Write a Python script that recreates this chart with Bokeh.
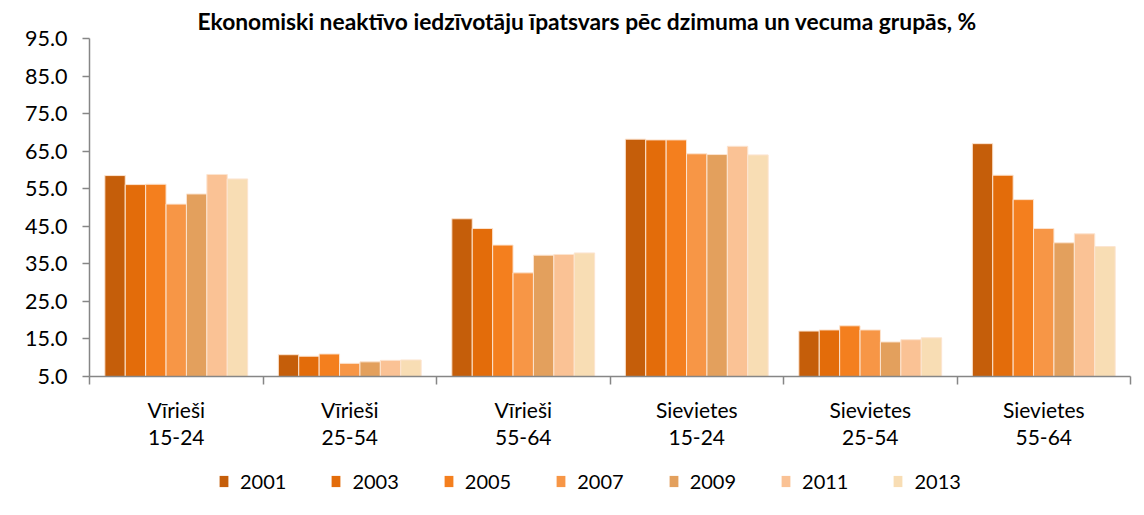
from bokeh.plotting import figure
from bokeh.layouts import column
from bokeh.models import (Range1d, FixedTicker, PrintfTickFormatter, Legend, LegendItem,
                          ColumnDataSource)
from bokeh.transform import dodge
from bokeh.embed import file_html
from bokeh.resources import INLINE

title_text = "Ekonomiski neaktīvo iedzīvotāju īpatsvars pēc dzimuma un vecuma grupās, %"
categories = ["Vīrieši\n15-24", "Vīrieši\n25-54", "Vīrieši\n55-64",
              "Sievietes\n15-24", "Sievietes\n25-54", "Sievietes\n55-64"]
years = ["2001", "2003", "2005", "2007", "2009", "2011", "2013"]
v2001 = [58.5, 10.8, 47.0, 68.2, 17.1, 67.0]
v2003 = [56.1, 10.4, 44.4, 68.0, 17.4, 58.6]
v2005 = [56.2, 11.0, 40.0, 68.0, 18.5, 52.1]
v2007 = [50.9, 8.5, 32.6, 64.3, 17.4, 44.4]
v2009 = [53.6, 8.9, 37.3, 64.1, 14.2, 40.6]
v2011 = [58.8, 9.3, 37.5, 66.3, 14.8, 43.0]
v2013 = [57.6, 9.4, 37.9, 64.0, 15.3, 39.6]
y_ticks = [5, 15, 25, 35, 45, 55, 65, 75, 85, 95]

series = [v2001, v2003, v2005, v2007, v2009, v2011, v2013]
colors = ["#C55E0A", "#E36C0A", "#F47F1E", "#F79646", "#E3A05D", "#FAC295", "#F8DDB4"]

FONT = "Lato"
n = len(categories)
centers = [i + 0.5 for i in range(n)]
data = {"x": centers}
for yr, vals in zip(years, series):
    data["y" + yr] = vals
src = ColumnDataSource(data)

W = 1136
p = figure(width=W, height=460, x_range=Range1d(0, n), y_range=Range1d(5, 95),
           output_backend="svg", toolbar_location=None,
           min_border_left=89, min_border_right=6, min_border_top=38, min_border_bottom=84)
p.background_fill_color = "white"
p.border_fill_color = "white"
p.outline_line_color = None
p.xgrid.visible = False
p.ygrid.visible = False

p.title.text = title_text
p.title.align = "left"
p.title.offset = 108
p.title.standoff = 4
p.title.vertical_align = "top"
p.title.text_font = FONT
p.title.text_font_size = "22.8px"
p.title.text_font_style = "bold"
p.title.text_color = "black"

bw = 0.1176
for j, (yr, col) in enumerate(zip(years, colors)):
    p.vbar(x=dodge("x", (j - 3) * bw, range=p.x_range), top="y" + yr, bottom=5,
           width=bw, source=src, fill_color=col, line_color="#FCE4D0", line_width=1)

# x axis
xa = p.xaxis[0]
xa.ticker = FixedTicker(ticks=centers, minor_ticks=list(range(n + 1)))
xa.major_label_overrides = {c: lab for c, lab in zip(centers, categories)}
xa.major_tick_line_color = None
xa.major_tick_out = 0
xa.major_tick_in = 0
xa.minor_tick_out = 8
xa.minor_tick_in = 0
xa.minor_tick_line_color = "#868686"
xa.minor_tick_line_width = 1.5
xa.axis_line_color = "#868686"
xa.axis_line_width = 1.5
xa.major_label_text_font = FONT
xa.major_label_text_font_size = "21px"
xa.major_label_text_color = "black"
xa.major_label_text_line_height = 1.1
xa.major_label_standoff = 12

# y axis
ya = p.yaxis[0]
ya.ticker = FixedTicker(ticks=y_ticks, minor_ticks=[])
ya.formatter = PrintfTickFormatter(format="%.1f")
ya.major_tick_out = 7
ya.major_tick_in = 0
ya.major_tick_line_color = "#868686"
ya.major_tick_line_width = 1.5
ya.minor_tick_line_color = None
ya.axis_line_color = "#868686"
ya.axis_line_width = 1.5
ya.major_label_text_font = FONT
ya.major_label_text_font_size = "21.5px"
ya.major_label_text_color = "black"
ya.major_label_standoff = 15

# legend strip (separate canvas so the legend is not clipped by the chart frame);
# the same bars are drawn there but kept out of view by its y range
q = figure(width=W, height=47, x_range=p.x_range, y_range=Range1d(100, 101),
           output_backend="svg", toolbar_location=None,
           x_axis_location=None, y_axis_location=None, min_border=0)
q.outline_line_color = None
q.xgrid.visible = False
q.ygrid.visible = False
q.background_fill_color = "white"
q.border_fill_color = "white"
items = []
for j, (yr, col) in enumerate(zip(years, colors)):
    r = q.vbar(x=dodge("x", (j - 3) * bw, range=p.x_range), top="y" + yr, bottom=5,
               width=bw, source=src, fill_color=col, line_color=None)
    items.append(LegendItem(label=yr, renderers=[r]))
legend = Legend(items=items, orientation="horizontal", location=(129, 14),
                glyph_width=11, glyph_height=14, label_standoff=11, spacing=44,
                padding=0, margin=0, border_line_color=None, background_fill_alpha=0,
                label_text_font=FONT, label_text_font_size="20px", label_text_color="black")
q.add_layout(legend, "center")

layout = column(p, q, spacing=0)
open("out.html", "w").write(file_html(layout, INLINE))
